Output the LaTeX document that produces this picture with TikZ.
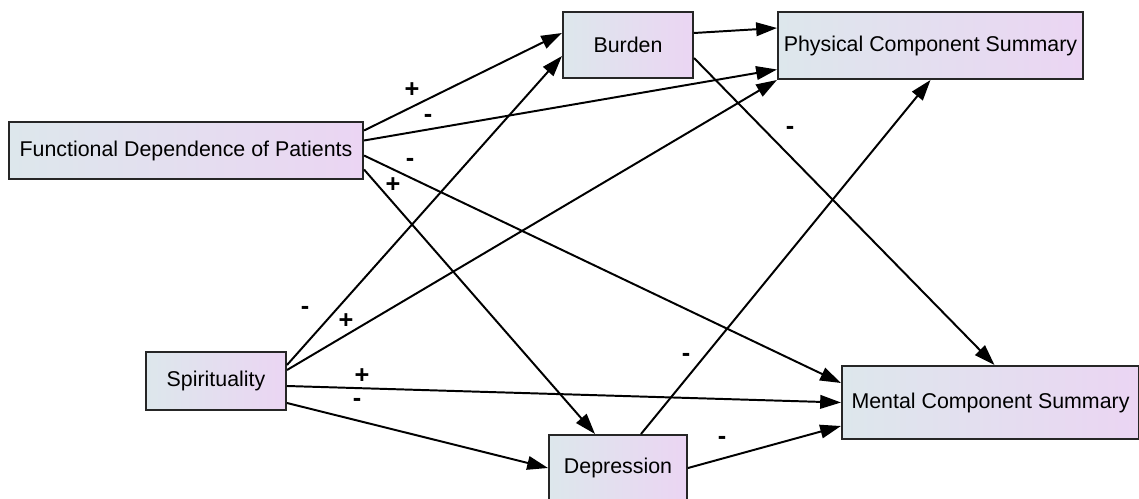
\documentclass[tikz,border=0pt]{standalone}
\usepackage{fontspec}
\setmainfont{Liberation Sans}
\usetikzlibrary{calc,arrows.meta}

\definecolor{boxleft}{RGB}{221,231,236}
\definecolor{boxright}{RGB}{235,213,243}
\tikzset{
  varbox/.style={draw=black!85, line width=1.4pt, rectangle, inner sep=0pt,
    left color=boxleft, right color=boxright, font=\fontsize{15.2}{18}\selectfont},
  link/.style={line width=1.4pt, -{Triangle[length=5.2mm,width=3.4mm]}},
  sign/.style={font=\bfseries\fontsize{18}{20}\selectfont, inner sep=0pt}
}

\begin{document}
\begin{tikzpicture}[x=0.025cm, y=-0.025cm]
	%%%%% START %%%%%
	\useasboundingbox (0, 0) rectangle (1139, 499);
	
	\node[varbox, minimum width=8.85cm, minimum height=1.425cm] (fdp) at (186, 150.5) {Functional Dependence of Patients};
	\node[varbox, minimum width=3.25cm, minimum height=1.65cm] (burden) at (628, 45) {Burden};
	\node[varbox, minimum width=7.625cm, minimum height=1.675cm] (pcs) at (930.5, 45.5) {Physical Component Summary};
	\node[varbox, minimum width=3.5cm, minimum height=1.45cm] (spirit) at (216, 381) {Spirituality};
	\node[varbox, minimum width=7.425cm, minimum height=1.825cm] (mcs) at (990.5, 402.5) {Mental Component Summary};
	\node[varbox, minimum width=3.45cm, minimum height=1.625cm] (depress) at (618, 467.5) {Depression};
	
	% functional dependence
	\draw[link] ($(fdp.east)+(0,-20)$) -- ($(burden.west)+(0,-12)$);
	\draw[link] ($(fdp.east)+(0,-10)$) -- ($(pcs.west)+(0,24)$);
	\draw[link] ($(fdp.east)+(0,5)$) -- ($(mcs.west)+(0,-19.5)$);
	\draw[link] ($(fdp.east)+(0,19)$) -- ($(depress.north)+(-23,0)$);
	
	% spirituality
	\draw[link] ($(spirit.east)+(0,-16)$) -- ($(burden.west)+(0,11)$);
	\draw[link] ($(spirit.east)+(0,-11)$) -- (pcs.south west);
	\draw[link] ($(spirit.east)+(0,5)$) -- ($(mcs.west)+(0,0)$);
	\draw[link] ($(spirit.east)+(0,22)$) -- ($(depress.west)+(0,0.5)$);
	
	% burden
	\draw[link] ($(burden.east)+(0,-12)$) -- ($(pcs.west)+(0,-17.5)$);
	\draw[link] ($(burden.east)+(0,13)$) -- ($(mcs.north)+(4,0)$);
	
	% depression
	\draw[link] ($(depress.north)+(23,0)$) -- (pcs.south);
	\draw[link] ($(depress.east)+(0,0.5)$) -- ($(mcs.west)+(0,23.5)$);
	
	\node[sign] (s1) at (412, 90) {+};
	\node[sign] (s2) at (428, 118) {-};
	\node[sign] (s3) at (410, 162) {-};
	\node[sign] (s4) at (393, 185) {+};
	\node[sign] (s5) at (305, 310) {-};
	\node[sign] (s6) at (346, 321) {+};
	\node[sign] (s7) at (362, 376) {+};
	\node[sign] (s8) at (357, 402) {-};
	\node[sign] (s9) at (790, 130) {-};
	\node[sign] (s10) at (686, 357) {-};
	\node[sign] (s11) at (722, 440) {-};
	
	%%%%% END %%%%%
\end{tikzpicture}
\end{document}
